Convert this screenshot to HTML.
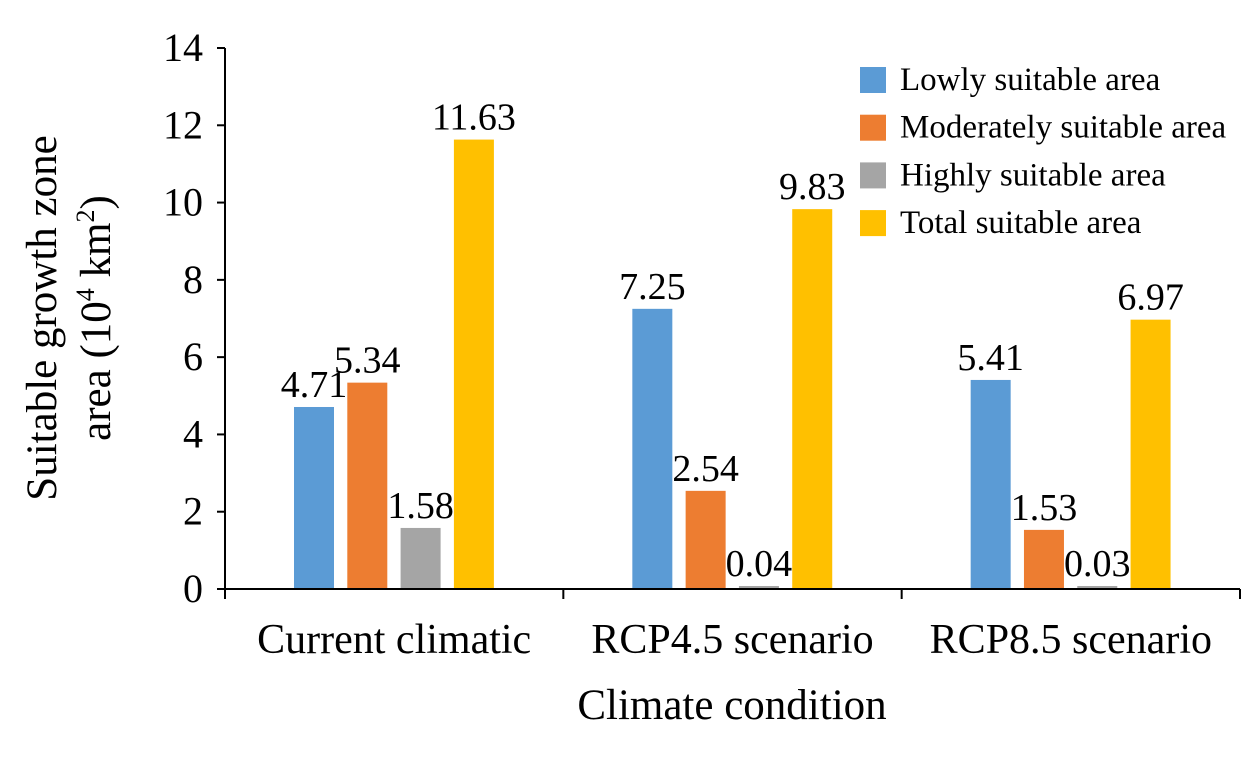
<!DOCTYPE html>
<html><head><meta charset="utf-8"><style>
body{margin:0;background:#fff}
svg{display:block;font-family:"Liberation Serif",serif}
</style></head><body>
<svg id="c" width="1260" height="762"></svg>
<script>
const categories=["Current climatic","RCP4.5 scenario","RCP8.5 scenario"];
const seriesNames=["Lowly suitable area","Moderately suitable area","Highly suitable area","Total suitable area"];
const lowly=[4.71,7.25,5.41];
const moderately=[5.34,2.54,1.53];
const highly=[1.58,0.04,0.03];
const total=[11.63,9.83,6.97];
const yTicks=[0,2,4,6,8,10,12,14];
const colors=["#5b9bd5","#ed7d31","#a5a5a5","#ffc000"];
const series=[lowly,moderately,highly,total];
const svg=document.getElementById('c');
const NS='http://www.w3.org/2000/svg';
const x0=225,x1=1240,y0=589,yTop=48,ymax=14;
const y=v=>y0-(v/ymax)*(y0-yTop);
const gw=(x1-x0)/categories.length;
function mk(t,a,txt){const e=document.createElementNS(NS,t);for(const k in a)e.setAttribute(k,a[k]);if(txt!=null)e.textContent=txt;svg.appendChild(e);return e;}
series.forEach((s,si)=>{s.forEach((v,ci)=>{
 const cx=x0+ci*gw+89+si*53.3;
 const top=Math.min(y(v),y0-3);
 const r=mk('rect',{x:cx-20,y:top,width:40,height:y0-top+1,fill:colors[si]});
 
 
 const t=mk('text',{x:cx,y:top-10,'text-anchor':'middle','font-size':38},v.toFixed(2));
 
 
});});
const ya=mk('line',{x1:x0,y1:yTop,x2:x0,y2:y0,stroke:'#000','stroke-width':2});


const xa=mk('line',{x1:x0-8,y1:y0,x2:x1,y2:y0,stroke:'#000','stroke-width':2});


yTicks.forEach(v=>{
 mk('line',{x1:x0-8,y1:y(v),x2:x0,y2:y(v),stroke:'#000','stroke-width':2});
 const t=mk('text',{x:x0-22,y:y(v)+13,'text-anchor':'end','font-size':40},v);
 
 
});
for(let i=0;i<=categories.length;i++)mk('line',{x1:x0+i*gw,y1:y0,x2:x0+i*gw,y2:y0+10,stroke:'#000','stroke-width':2});
categories.forEach((c,i)=>{
 const t=mk('text',{x:x0+(i+0.5)*gw,y:653,'text-anchor':'middle','font-size':42},c);
 
 
});
const xt=mk('text',{x:732,y:719,'text-anchor':'middle','font-size':43},'Climate condition');


const yt=mk('text',{transform:'translate(56,318) rotate(-90)','text-anchor':'middle','font-size':43},'Suitable growth zone');


const yt2=mk('text',{transform:'translate(110,318) rotate(-90)','text-anchor':'middle','font-size':43});
yt2.innerHTML='area (10<tspan font-size="26" dy="-16">4</tspan><tspan dy="16"> km</tspan><tspan font-size="26" dy="-16">2</tspan><tspan dy="16">)</tspan>';


seriesNames.forEach((n,i)=>{
 const yy=80+i*47.7;
 const r=mk('rect',{x:860,y:yy-13,width:26,height:26,fill:colors[i]});
 
 
 const t=mk('text',{x:900,y:yy+10,'font-size':33},n);
 
 
});
</script>
</body></html>
